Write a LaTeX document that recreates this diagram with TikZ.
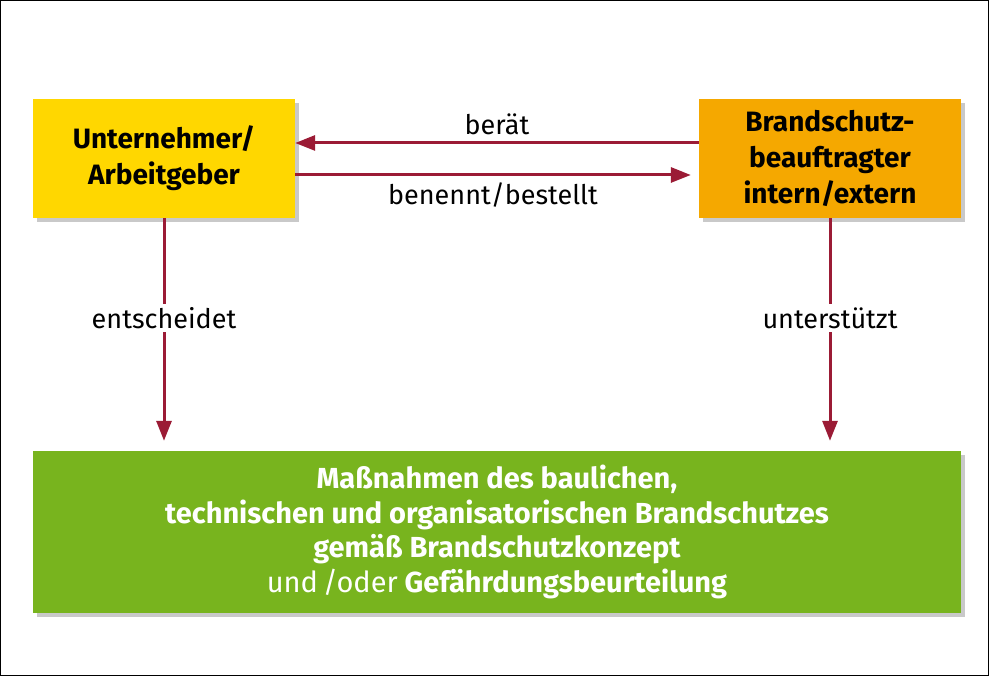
\documentclass[tikz,border=0pt]{standalone}
\usepackage{fontspec}
\setmainfont{Fira Sans}
\usetikzlibrary{arrows.meta,shadows}
\definecolor{arr}{HTML}{9B1B35}
\definecolor{yel}{HTML}{FFD700}
\definecolor{ora}{HTML}{F5A800}
\definecolor{grn}{HTML}{78B41E}
\tikzset{
 box/.style={draw=none,inner sep=0pt,align=center,font=\fontsize{28}{36}\selectfont\bfseries,
   drop shadow={shadow xshift=4pt,shadow yshift=-4pt,opacity=0.35,fill=black!60}},
 conn/.style={draw=arr,line width=3pt,-{Triangle[length=20pt,width=15pt]}},
 lbl/.style={font=\fontsize{27}{32}\selectfont}
}
\begin{document}
\begin{tikzpicture}[x=1pt,y=1pt]
\draw[line width=1pt,fill=white] (0.5,0.5) rectangle (988.5,675.5);
\useasboundingbox (0,0) rectangle (989,676);
\node[box,fill=yel,minimum width=262pt,minimum height=119pt] (ua) at (164,517.5) {Unternehmer/\\Arbeitgeber};
\node[box,fill=ora,minimum width=262pt,minimum height=119pt] (bs) at (830,517.5) {Brandschutz-\\beauftragter\\intern/extern};
\node[box,fill=grn,text=white,minimum width=928pt,minimum height=162pt,font=\fontsize{29}{34.5}\selectfont\bfseries] (mn) at (497,144)
 {Maßnahmen des baulichen,\\technischen und organisatorischen Brandschutzes\\gemäß Brandschutzkonzept\\{\mdseries und\,/oder} Gefährdungsbeurteilung};
\draw[conn] (bs.west|-0,533) -- node[lbl,above=3pt]{berät} (ua.east|-0,533);
\draw[conn] (ua.east|-0,501) -- node[lbl,below=3pt]{benennt/bestellt} ([xshift=-8pt]bs.west|-0,501);
\draw[conn] (ua.south) -- node[lbl,fill=white,pos=0.45]{entscheidet} ([yshift=10pt]ua.south|-mn.north);
\draw[conn] (bs.south) -- node[lbl,fill=white,pos=0.45]{unterstützt} ([yshift=10pt]bs.south|-mn.north);
\end{tikzpicture}
\end{document}
